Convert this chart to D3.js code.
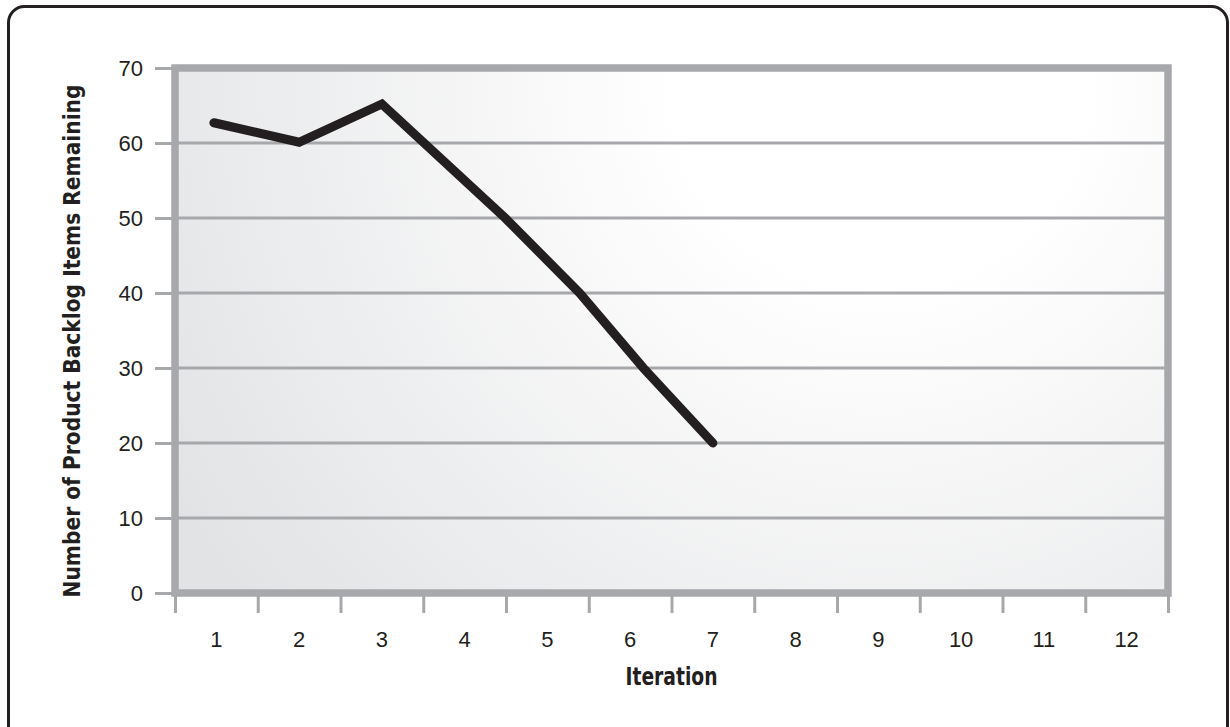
<!DOCTYPE html>
<html>
<head>
<meta charset="utf-8">
<script src="https://cdn.jsdelivr.net/npm/d3@7"></script>
<style>
  body { margin: 0; background: #fff; }
  text { font-family: "Liberation Sans", Arial, sans-serif; fill: #231f20; }
  .title { font-family: "Liberation Sans Narrow", "DejaVu Sans Condensed", "Liberation Sans", sans-serif; font-weight: bold; font-stretch: condensed; }
</style>
</head>
<body>
<svg id="chart"></svg>
<script>
// data
var xLabels = ['1','2','3','4','5','6','7','8','9','10','11','12']
var yTicks = [0, 10, 20, 30, 40, 50, 60, 70]
var burnIteration = [0.97, 2, 3, 4.49, 5.39, 6.16, 7]
var burnRemaining = [62.7, 60.1, 65.2, 50, 40, 30, 20]

var width = 1230, height = 727
var plot = {left: 175, right: 1168, top: 68, bottom: 593}
var gridColor = '#a7a8ab'
var ink = '#231f20'

var svg = d3.select('#chart')
  .attr('width', width)
  .attr('height', height)

var x = d3.scaleLinear()
  .domain([0.5, xLabels.length + 0.5])
  .range([plot.left, plot.right])

var y = d3.scaleLinear()
  .domain([0, 70])
  .range([plot.bottom, plot.top])

// outer frame, bottom edge runs off the page
svg.append('rect')
  .attr('x', 8.5).attr('y', 6.5)
  .attr('width', 1219).attr('height', 760)
  .attr('rx', 16)
  .style('fill', '#fff')
  .style('stroke', ink)
  .style('stroke-width', 3)

// background shading
var grad = svg.append('defs').append('radialGradient')
  .attr('id', 'bg')
  .attr('gradientUnits', 'userSpaceOnUse')
  .attr('cx', 880).attr('cy', 80).attr('r', 820)
grad.append('stop').attr('offset', '0%').attr('stop-color', '#ffffff')
grad.append('stop').attr('offset', '25%').attr('stop-color', '#ffffff')
grad.append('stop').attr('offset', '100%').attr('stop-color', '#e2e3e5')

svg.append('rect')
  .attr('x', plot.left).attr('y', plot.top)
  .attr('width', plot.right - plot.left)
  .attr('height', plot.bottom - plot.top)
  .style('fill', 'url(#bg)')

// gridlines
svg.append('g')
  .selectAll('line')
  .data(yTicks.slice(1, -1))
  .enter()
  .append('line')
  .attr('x1', plot.left).attr('x2', plot.right)
  .attr('y1', function(d) { return y(d) })
  .attr('y2', function(d) { return y(d) })
  .style('stroke', gridColor)
  .style('stroke-width', 3)

// y axis
var yAxis = d3.axisLeft(y)
  .tickValues(yTicks)
  .tickSize(20)
  .tickPadding(12)

var gy = svg.append('g')
  .attr('transform', 'translate(' + plot.left + ',0)')
  .call(yAxis)
gy.select('.domain').remove()
gy.selectAll('line').style('stroke', gridColor).style('stroke-width', 3)
gy.selectAll('text')
  .style('font-size', '22px')
  .style('fill', ink)
  .attr('font-family', null)

// x axis: ticks sit on the boundaries, labels in the middle
var xAxis = d3.axisBottom(x)
  .tickValues(d3.range(0.5, xLabels.length + 1, 1))
  .tickSize(20)
  .tickFormat('')

var gx = svg.append('g')
  .attr('transform', 'translate(0,' + plot.bottom + ')')
  .call(xAxis)
gx.select('.domain').remove()
gx.selectAll('line').style('stroke', gridColor).style('stroke-width', 3)

svg.append('g')
  .selectAll('text')
  .data(xLabels)
  .enter()
  .append('text')
  .attr('x', function(d, i) { return x(i + 1) })
  .attr('y', 647)
  .attr('text-anchor', 'middle')
  .style('font-size', '22px')
  .text(function(d) { return d })

// plot frame
svg.append('rect')
  .attr('x', plot.left).attr('y', plot.top)
  .attr('width', plot.right - plot.left)
  .attr('height', plot.bottom - plot.top)
  .style('fill', 'none')
  .style('stroke', gridColor)
  .style('stroke-width', 7.5)

// burndown line
var line = d3.line()
  .x(function(d, i) { return x(burnIteration[i]) })
  .y(function(d) { return y(d) })

svg.append('path')
  .datum(burnRemaining)
  .attr('d', line)
  .style('fill', 'none')
  .style('stroke', ink)
  .style('stroke-width', 9)
  .style('stroke-linejoin', 'miter')
  .style('stroke-linecap', 'round')

// axis titles
svg.append('text')
  .attr('class', 'title')
  .attr('x', (plot.left + plot.right) / 2)
  .attr('y', 685)
  .attr('text-anchor', 'middle')
  .attr('textLength', 92)
  .attr('lengthAdjust', 'spacingAndGlyphs')
  .style('font-size', '25px')
  .text('Iteration')

svg.append('text')
  .attr('class', 'title')
  .attr('transform', 'translate(80,341) rotate(-90)')
  .attr('text-anchor', 'middle')
  .attr('textLength', 513)
  .attr('lengthAdjust', 'spacingAndGlyphs')
  .style('font-size', '23px')
  .text('Number of Product Backlog Items Remaining')
</script>
</body>
</html>
